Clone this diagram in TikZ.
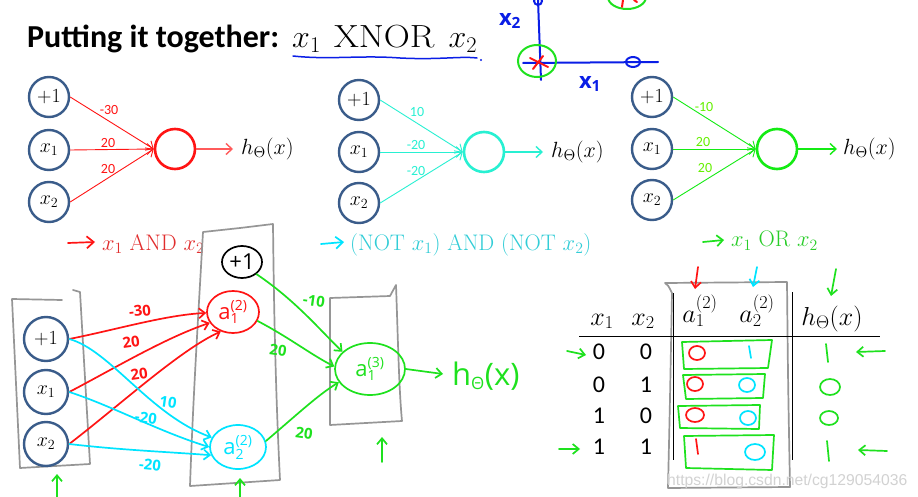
\RequirePackage{fix-cm}
\documentclass[tikz,border=0pt]{standalone}
\usepackage{fontspec}
\setsansfont{Carlito}
\newfontfamily\hand{Open Sans}
\newfontfamily\wmfont{Liberation Sans}
\usetikzlibrary{arrows.meta,shapes.geometric}
\definecolor{inblue}{RGB}{58,92,138}
\definecolor{nred}{RGB}{255,20,20}
\definecolor{tred}{RGB}{225,45,45}
\definecolor{ncyan}{RGB}{40,240,210}
\definecolor{tcyan}{RGB}{50,205,215}
\definecolor{hcyan}{RGB}{0,228,255}
\definecolor{ngreen}{RGB}{20,235,20}
\definecolor{wgreen}{RGB}{100,240,0}
\definecolor{tgreen}{RGB}{40,205,40}
\definecolor{hgreen}{RGB}{30,225,30}
\definecolor{gboxc}{RGB}{150,150,150}
\definecolor{sblue}{RGB}{10,30,230}
\newcommand{\hsub}[3]{$\hbox{#1}^{\hbox{\fontsize{14}{14}\selectfont #2}}_{\hbox{\fontsize{14}{14}\selectfont #3}}$}
\begin{document}
\begin{tikzpicture}[x=1pt,y=-1pt,
  inp/.style={circle,draw=inblue,line width=2.4pt,minimum size=40pt,inner sep=0pt,font=\fontsize{20}{20}\selectfont},
  outc/.style={circle,line width=2.6pt,minimum size=40pt,inner sep=0pt},
  wt/.style={font=\sffamily\fontsize{14}{14}\selectfont,inner sep=0pt},
  tip/.style={-{Straight Barb[length=6pt,width=11pt]}},
  hw/.style={line width=1.7pt,line cap=round,line join=round},
  hwtip/.style={hw,-{Straight Barb[length=6pt,width=10pt]}},
  gb/.style={draw=gboxc,line width=1.7pt,line join=round,line cap=round},
  hnum/.style={font=\hand\bfseries\fontsize{15}{15}\selectfont,inner sep=0pt},
  lbl/.style={font=\fontsize{22.5}{22.5}\selectfont,inner sep=0pt,anchor=base west},
  hout/.style={font=\fontsize{22}{22}\selectfont,inner sep=0pt,anchor=west},
  tab/.style={font=\fontsize{26}{26}\selectfont,inner sep=0pt,anchor=base},
  dig/.style={font=\sffamily\fontsize{24}{24}\selectfont,inner sep=0pt},
  hnode/.style={ellipse,hw,inner sep=0pt,font=\hand\fontsize{22}{22}\selectfont}
]
\useasboundingbox (0,0) rectangle (918,497);
\fill[white] (0,0) rectangle (918,497);

% ---------- title ----------
\node[anchor=base west,inner sep=0pt,font=\sffamily\bfseries\fontsize{32}{32}\selectfont] (title) at (27,48) {Putting it together:};
\node[anchor=base west,inner sep=0pt,font=\fontsize{32}{32}\selectfont] (xnor) at (292,48) {$x_1$\hspace{13pt}\scalebox{1.13}[1]{XNOR}\hspace{14pt}$x_2$};
\draw[sblue,line width=1.5pt,line cap=round] (293,56) .. controls (330,60) and (360,55) .. (400,58) .. controls (440,60) and (460,56) .. (477,58);

% ---------- sketch top right ----------
\draw[sblue,line width=2pt,line cap=round] (538,0) -- (541,80);
\draw[sblue,line width=2pt,line cap=round] (523,63) -- (658,62);
\draw[sblue,line width=2pt] (538,1) circle[radius=4pt];
\draw[sblue,line width=2pt] (633,62) ellipse[x radius=7pt,y radius=5pt];
\draw[hgreen,line width=2pt] (537,61) ellipse[x radius=19pt,y radius=16pt];
\draw[nred,line width=2pt,line cap=round] (530,58) -- (548,67) (543,56) -- (533,69);
\draw[hgreen,line width=2pt] (627,-3) ellipse[x radius=19pt,y radius=12pt];
\draw[nred,line width=2pt,line cap=round] (623,0) -- (622,7) (634,0) -- (637,2);
\node[text=sblue,font=\hand\bfseries\fontsize{22}{22}\selectfont,inner sep=0pt] (sx2) at (510,21) {x\textsubscript{2}};
\node[text=sblue,font=\hand\bfseries\fontsize{22}{22}\selectfont,inner sep=0pt] (sx1) at (590,84) {x\textsubscript{1}};
\fill[sblue] (481,60) circle[radius=1.2pt];

% ---------- network 1 (AND) ----------
\node[inp] (p1) at (49,97) {$+1$};
\node[inp] (q1) at (49,150) {$x_1$};
\node[inp] (r1) at (49,202) {$x_2$};
\node[outc,draw=nred] (o1) at (175,149) {};
\coordinate (e1) at (233,149);
\node[hout] (h1) at (241,149) {$h_\Theta(x)$};
\draw[nred,line width=0.9pt,tip] (p1.east) -- (o1.west);
\draw[nred,line width=0.9pt,tip] (q1.east) -- (o1.west);
\draw[nred,line width=0.9pt,tip] (r1.east) -- (o1.west);
\draw[nred!70,line width=1.4pt,tip] (o1.east) -- (e1);
\node[wt,text=nred] (w11) at (109,110) {-30};
\node[wt,text=nred] (w12) at (108,143) {20};
\node[wt,text=nred] (w13) at (108,169) {20};

% ---------- network 2 (NOR) ----------
\node[inp] (p2) at (359,100) {$+1$};
\node[inp] (q2) at (359,152) {$x_1$};
\node[inp] (r2) at (359,203) {$x_2$};
\node[outc,draw=ncyan] (o2) at (484,152) {};
\coordinate (e2) at (543,152);
\node[hout] (h2) at (551,152) {$h_\Theta(x)$};
\draw[ncyan,line width=0.9pt,tip] (p2.east) -- (o2.west);
\draw[ncyan,line width=0.9pt,tip] (q2.east) -- (o2.west);
\draw[ncyan,line width=0.9pt,tip] (r2.east) -- (o2.west);
\draw[ncyan,line width=1.4pt,tip] (o2.east) -- (e2);
\node[wt,text=ncyan] (w21) at (417,112) {10};
\node[wt,text=ncyan] (w22) at (416,145) {-20};
\node[wt,text=ncyan] (w23) at (416,171) {-20};

% ---------- network 3 (OR) ----------
\node[inp] (p3) at (652,97) {$+1$};
\node[inp] (q3) at (652,149) {$x_1$};
\node[inp] (r3) at (652,200) {$x_2$};
\node[outc,draw=ngreen] (o3) at (777,149) {};
\coordinate (e3) at (837,149);
\node[hout] (h3) at (843,149) {$h_\Theta(x)$};
\draw[ngreen,line width=0.9pt,tip] (p3.east) -- (o3.west);
\draw[ngreen,line width=0.9pt,tip] (q3.east) -- (o3.west);
\draw[ngreen,line width=0.9pt,tip] (r3.east) -- (o3.west);
\draw[ngreen,line width=1.4pt,tip] (o3.east) -- (e3);
\node[wt,text=wgreen] (w31) at (704,107) {-10};
\node[wt,text=wgreen] (w32) at (703,142) {20};
\node[wt,text=wgreen] (w33) at (705,168) {20};

% ---------- captions ----------
\coordinate (c1a) at (68,243); \coordinate (c1b) at (95,242);
\draw[nred,hw,-{Straight Barb[length=7pt,width=12pt]}] (c1a) -- (c1b);
\node[lbl,text=tred] (cap1) at (102,250) {$x_1$ AND $x_2$};
\coordinate (c2a) at (321,244); \coordinate (c2b) at (344,242);
\draw[hcyan,hw,-{Straight Barb[length=7pt,width=12pt]}] (c2a) -- (c2b);
\node[lbl,text=tcyan] (cap2) at (350,250) {(NOT $x_1$) AND (NOT $x_2$)};
\coordinate (c3a) at (703,242); \coordinate (c3b) at (724,240);
\draw[hgreen,hw,-{Straight Barb[length=6pt,width=11pt]}] (c3a) -- (c3b);
\node[lbl,text=tgreen] (cap3) at (731,247) {$x_1$ OR $x_2$};

% ---------- bottom network: boxes ----------
\draw[gb] (62,300) -- (12,299) -- (20,468) -- (90,464) -- (80,292) -- (73,290);
\draw[gb] (203,232) -- (240,228) -- (273,224) .. controls (274,320) and (276,400) .. (280,480) -- (190,486) .. controls (193,400) and (198,320) .. (203,232);
\draw[gb] (330,298) -- (390,296) -- (396,285) .. controls (398,340) and (399,390) .. (402,421) -- (330,425) -- cycle;

% ---------- bottom network: nodes ----------
\node[inp,minimum size=44pt,font=\fontsize{20}{20}\selectfont] (bi0) at (46,339) {$+1$};
\node[inp,minimum size=44pt,font=\fontsize{20}{20}\selectfont] (bi1) at (46,392) {$x_1$};
\node[inp,minimum size=44pt,font=\fontsize{20}{20}\selectfont] (bi2) at (46,444) {$x_2$};
\node[hnode,draw=black,minimum width=40pt,minimum height=32pt] (b0) at (242,262) {+1};
\node[hnode,draw=nred,text=nred,minimum width=52pt,minimum height=42pt] (ha1) at (233,312) {\hsub{a}{(2)}{1}};
\node[hnode,draw=hcyan,text=hcyan,minimum width=56pt,minimum height=44pt] (ha2) at (238,447) {\hsub{a}{(2)}{2}};
\node[hnode,draw=hgreen,text=hgreen,minimum width=70pt,minimum height=52pt] (ha3) at (370,369) {\hsub{a}{(3)}{1}};
\coordinate (hend) at (443,374);
\draw[hgreen,hwtip] (ha3.east) -- (hend);
\node[anchor=west,text=hgreen,inner sep=0pt,font=\hand\fontsize{31}{31}\selectfont] (hx) at (452,376) {h\textsubscript{\fontsize{17}{17}\selectfont Θ}(x)};

% red connectors
\draw[nred,hwtip] (bi0.east) .. controls (115,330) and (165,315) .. (ha1.182);
\draw[nred,hwtip] (bi1.east) .. controls (115,368) and (165,338) .. (ha1.205);
\draw[nred,hwtip] (bi2.east) .. controls (120,405) and (180,350) .. (ha1.238);
\node[hnum,text=nred,rotate=6] (l1) at (140,311) {-30};
\node[hnum,text=nred,rotate=8] (l2) at (131,342) {20};
\node[hnum,text=nred,rotate=8] (l3) at (139,374) {20};

% cyan connectors
\draw[hcyan,hwtip] (bi0.east) .. controls (110,350) and (150,415) .. (ha2.160);
\draw[hcyan,hwtip] (bi1.east) .. controls (110,405) and (160,432) .. (ha2.180);
\draw[hcyan,hwtip] (bi2.east) .. controls (120,450) and (170,452) .. (ha2.197);
\node[hnum,text=hcyan,rotate=-8] (l4) at (168,402) {10};
\node[hnum,text=hcyan,rotate=-8] (l5) at (146,418) {-20};
\node[hnum,text=hcyan,rotate=-6] (l6) at (150,465) {-20};

% green connectors
\draw[hgreen,hwtip] (b0.-40) .. controls (295,300) and (320,330) .. (ha3.148);
\draw[hgreen,hwtip] (ha1.-20) .. controls (290,338) and (310,354) .. (ha3.176);
\draw[hgreen,hwtip] (ha2.12) .. controls (300,412) and (318,395) .. (ha3.203);
\node[hnum,text=hgreen,rotate=-8] (l7) at (314,301) {-10};
\node[hnum,text=hgreen,rotate=-8] (l8) at (278,350) {20};
\node[hnum,text=hgreen,rotate=-8] (l9) at (304,433) {20};

% up arrows under layers
\coordinate (u1a) at (57,497); \coordinate (u1b) at (57,474);
\coordinate (u2a) at (240,497); \coordinate (u2b) at (240,478);
\coordinate (u3a) at (382,462); \coordinate (u3b) at (382,437);
\draw[hgreen,hwtip] (u1a) -- (u1b);
\draw[hgreen,hwtip] (u2a) -- (u2b);
\draw[hgreen,hwtip] (u3a) -- (u3b);

% ---------- table ----------
\draw[gb] (672,293) .. controls (668,285) .. (665,283) -- (787,282) .. controls (788,380) .. (790,487) -- (668,488) .. controls (670,400) .. (672,293);
\node[tab] (tx1) at (602,325) {$x_1$};
\node[tab] (tx2) at (643,325) {$x_2$};
\node[tab] (ta1) at (700,322) {$a_1^{(2)}$};
\node[tab] (ta2) at (757,322) {$a_2^{(2)}$};
\node[tab] (th) at (832,325) {$h_\Theta(x)$};
\draw[line width=1pt] (673,293) -- (673,460);
\draw[line width=1pt] (792,292) -- (792,460);
\draw[line width=1pt] (579,336) -- (880,336);
\foreach \r/\a/\b [count=\i] in {352/0/0,385/0/1,416/1/0,447/1/1}{
  \node[dig] (da\i) at (599,\r) {\a};
  \node[dig] (db\i) at (646,\r) {\b};
}
% green row boxes
\draw[hgreen,hw] (682,342) -- (772,340) -- (768,368) -- (684,369) -- cycle;
\draw[hgreen,hw] (683,375) -- (765,374) -- (763,398) -- (686,399) -- cycle;
\draw[hgreen,hw] (678,406) -- (760,405) -- (759,429) -- (680,428) -- cycle;
\draw[hgreen,hw] (684,436) -- (774,435) -- (772,470) -- (686,468) -- cycle;
% row values
\draw[nred,hw] (697,353) ellipse[x radius=8pt,y radius=7pt];
\draw[hcyan,hw] (749,346) -- (751,358);
\draw[nred,hw] (695,384) ellipse[x radius=8pt,y radius=7pt];
\draw[hcyan,hw] (747,385) ellipse[x radius=8pt,y radius=7pt];
\draw[nred,hw] (695,415) ellipse[x radius=9pt,y radius=7pt];
\draw[hcyan,hw] (748,418) ellipse[x radius=8pt,y radius=7pt];
\draw[nred,hw] (696,439) -- (698,454);
\draw[hcyan,hw] (755,452) ellipse[x radius=10pt,y radius=8pt];
% output column
\draw[hgreen,hw] (826,344) -- (828,362);
\draw[hgreen,hw] (830,387) ellipse[x radius=10pt,y radius=8pt];
\draw[hgreen,hw] (829,418) ellipse[x radius=9pt,y radius=7pt];
\draw[hgreen,hw] (827,441) -- (829,461);
% arrows around table
\coordinate (ra1) at (567,351); \coordinate (rb1) at (586,355);
\coordinate (ra4) at (559,449); \coordinate (rb4) at (580,449);
\coordinate (ra2) at (885,351); \coordinate (rb2) at (856,352);
\coordinate (ra3) at (887,451); \coordinate (rb3) at (858,450);
\draw[hgreen,hwtip] (ra1) -- (rb1);
\draw[hgreen,hwtip] (ra4) -- (rb4);
\draw[hgreen,hwtip] (ra2) -- (rb2);
\draw[hgreen,hwtip] (ra3) -- (rb3);
\coordinate (da) at (698,267); \coordinate (db) at (695,289);
\coordinate (dc) at (757,267); \coordinate (dd) at (753,287);
\coordinate (de) at (836,269); \coordinate (df) at (831,296);
\draw[nred,hwtip] (da) -- (db);
\draw[hcyan,hwtip] (dc) -- (dd);
\draw[hgreen,hwtip] (de) -- (df);

% watermark
\node[anchor=base west,inner sep=0pt,text=gray!35,font=\wmfont\fontsize{15.7}{15.7}\selectfont] (wm) at (667,485) {https://blog.csdn.net/cg129054036};
\end{tikzpicture}
\end{document}
